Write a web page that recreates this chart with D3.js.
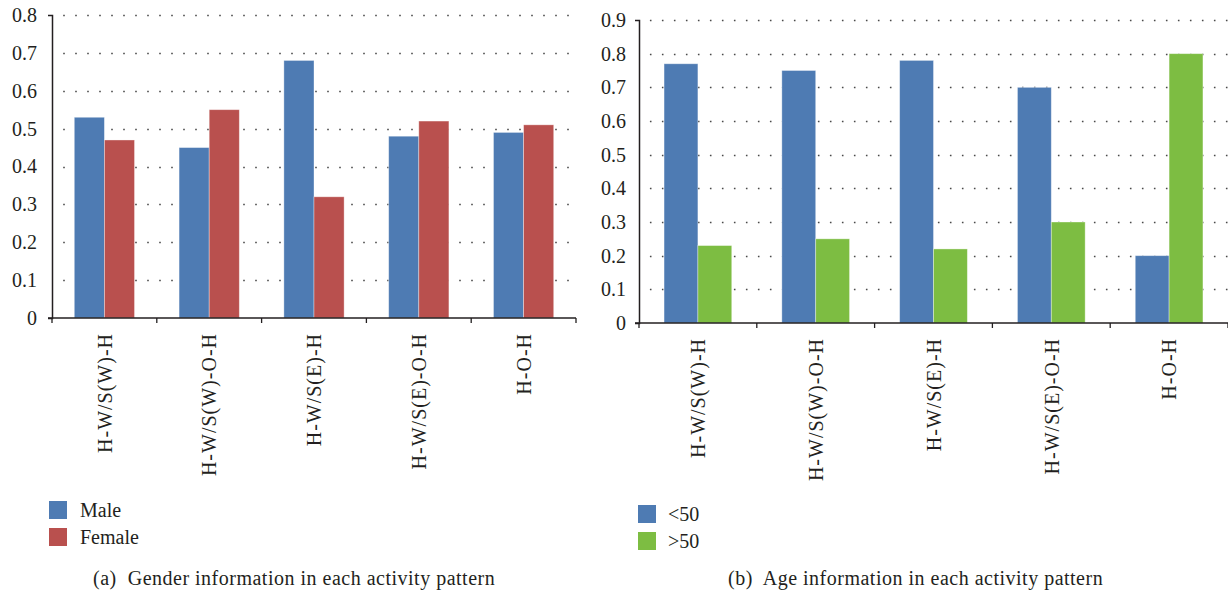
<!DOCTYPE html>
<html>
<head>
<meta charset="utf-8">
<script src="https://cdn.jsdelivr.net/npm/d3@7"></script>
<style>
  html, body { margin: 0; padding: 0; background: #fff; }
  svg { display: block; }
</style>
</head>
<body>
<svg id="chart" width="1228" height="595" font-family="Liberation Serif, Times New Roman, serif"></svg>
<script>
// Activity patterns shared by both panels
const patterns = ["H-W/S(W)-H", "H-W/S(W)-O-H", "H-W/S(E)-H", "H-W/S(E)-O-H", "H-O-H"];

// Panel (a): gender share
const genderKeys = ["Male", "Female"];
const maleShare = [0.53, 0.45, 0.68, 0.48, 0.49];
const femaleShare = [0.47, 0.55, 0.32, 0.52, 0.51];
const genderTicks = [0, 0.1, 0.2, 0.3, 0.4, 0.5, 0.6, 0.7, 0.8];

// Panel (b): age share
const ageKeys = ["<50", ">50"];
const under50Share = [0.77, 0.75, 0.78, 0.70, 0.20];
const over50Share = [0.23, 0.25, 0.22, 0.30, 0.80];
const ageTicks = [0, 0.1, 0.2, 0.3, 0.4, 0.5, 0.6, 0.7, 0.8, 0.9];

const captions = ["(a)  Gender information in each activity pattern",
                  "(b)  Age information in each activity pattern"];

const FONT = '"Liberation Serif", serif';
const INK = "#231f20";
const svg = d3.select("#chart");

function drawPanel(cfg) {
  const { keys, series, colors, ticks, left, right, top, bottom,
          labelGap, gridStart, gridEnd, legendX, legendY, legendTextX,
          caption, captionX } = cfg;

  const rows = patterns.map((p, i) => {
    const r = { pattern: p };
    keys.forEach((k, j) => { r[k] = series[j][i]; });
    return r;
  });

  const x0 = d3.scaleBand().domain(patterns).range([left, right]).padding(0);
  const x1 = d3.scaleBand().domain(keys).range([0, x0.bandwidth()])
    .paddingInner(0).paddingOuter(0.74);
  const y = d3.scaleLinear().domain([0, d3.max(ticks)]).range([bottom, top]);
  const color = d3.scaleOrdinal().domain(keys).range(colors);

  const g = svg.append("g");

  // dotted gridlines
  g.append("g").selectAll("line")
    .data(ticks.filter(t => t > 0))
    .join("line")
    .attr("x1", gridStart).attr("x2", gridEnd)
    .attr("y1", d => Math.round(y(d)) + 0.5).attr("y2", d => Math.round(y(d)) + 0.5)
    .attr("stroke", "#4a4a4a")
    .attr("stroke-width", 1.6)
    .attr("stroke-dasharray", "1.6,10.4");

  // bars
  g.append("g").selectAll("g")
    .data(rows)
    .join("g")
    .attr("transform", d => `translate(${x0(d.pattern)},0)`)
    .selectAll("rect")
    .data(d => keys.map(k => ({ key: k, value: d[k] })))
    .join("rect")
    .attr("x", d => x1(d.key))
    .attr("width", x1.bandwidth())
    .attr("y", d => y(d.value))
    .attr("height", d => y(0) - y(d.value))
    .attr("fill", d => color(d.key))
    .attr("stroke", "rgba(255,255,255,0.45)")
    .attr("stroke-width", 0.8);

  // y axis
  const yAxis = d3.axisLeft(y)
    .tickValues(ticks)
    .tickFormat(d => d === 0 ? "0" : d.toFixed(1))
    .tickSizeInner(0)
    .tickSizeOuter(4)
    .tickPadding(labelGap);
  const ya = g.append("g").attr("transform", `translate(${left},0)`).call(yAxis)
    .attr("font-family", FONT).attr("font-size", 20);
  ya.select(".domain").attr("stroke", INK).attr("stroke-width", 1.5);
  ya.selectAll("text").attr("fill", INK);

  // x axis: category labels centred on bands, ticks on band boundaries
  const xAxis = d3.axisBottom(x0).tickSize(0).tickPadding(0);
  const xa = g.append("g").attr("transform", `translate(0,${bottom})`).call(xAxis)
    .attr("font-family", FONT).attr("font-size", 20);
  xa.select(".domain").remove();
  xa.selectAll("text")
    .attr("transform", "rotate(-90)")
    .attr("x", -15).attr("y", 0).attr("dy", "0.36em")
    .attr("text-anchor", "end")
    .attr("letter-spacing", "1px")
    .attr("fill", INK);

  g.append("line")
    .attr("x1", left - 4).attr("x2", right)
    .attr("y1", bottom).attr("y2", bottom)
    .attr("stroke", INK).attr("stroke-width", 1.5);

  const bounds = patterns.map(p => x0(p)).concat([x0(patterns[patterns.length - 1]) + x0.bandwidth()]);
  g.append("g").selectAll("line")
    .data(bounds)
    .join("line")
    .attr("x1", d => d).attr("x2", d => d)
    .attr("y1", bottom).attr("y2", bottom + 5)
    .attr("stroke", INK).attr("stroke-width", 1.3);

  // legend
  const lg = g.append("g").attr("font-family", FONT).attr("font-size", 20);
  keys.forEach((k, i) => {
    lg.append("rect")
      .attr("x", legendX).attr("y", legendY + i * 27)
      .attr("width", 18).attr("height", 18)
      .attr("fill", color(k));
    lg.append("text")
      .attr("x", legendTextX).attr("y", legendY + i * 27 + 16)
      .attr("fill", INK)
      .text(k);
  });

  // caption
  g.append("text")
    .attr("x", captionX).attr("y", 585)
    .attr("font-family", FONT).attr("font-size", 20)
    .attr("letter-spacing", "0.5px")
    .attr("fill", INK)
    .style("white-space", "pre")
    .text(caption);
}

drawPanel({
  keys: genderKeys,
  series: [maleShare, femaleShare],
  colors: ["#4e7bb3", "#b9504e"],
  ticks: genderTicks,
  left: 52, right: 576, top: 15, bottom: 318,
  labelGap: 15,
  gridStart: 63.2, gridEnd: 572,
  legendX: 49, legendY: 501, legendTextX: 80,
  caption: captions[0], captionX: 93
});

drawPanel({
  keys: ageKeys,
  series: [under50Share, over50Share],
  colors: ["#4e7bb3", "#7dbd42"],
  ticks: ageTicks,
  left: 639, right: 1228, top: 20, bottom: 323,
  labelGap: 13,
  gridStart: 649.9, gridEnd: 1228,
  legendX: 638, legendY: 505, legendTextX: 668,
  caption: captions[1], captionX: 728
});
</script>
</body>
</html>
